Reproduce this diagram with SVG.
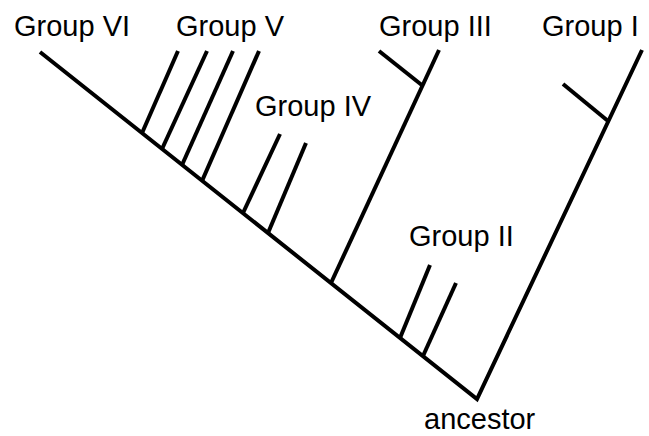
<svg xmlns="http://www.w3.org/2000/svg" width="649" height="436" viewBox="0 0 649 436">
<style>
text{font-family:"Liberation Sans",Arial,sans-serif;font-size:29px;fill:#000}
.e{stroke:#000;stroke-width:4;fill:none;stroke-linecap:butt;stroke-linejoin:miter}
</style>
<rect width="649" height="436" fill="#fff"/>
<g id="connectors">
<polyline class="e" points="40,52 477,399 642,50"/>
<line class="e" x1="563" y1="84" x2="608" y2="121"/>
<line class="e" x1="331" y1="283" x2="439" y2="50"/>
<line class="e" x1="379" y1="51" x2="423" y2="86"/>
<line class="e" x1="142" y1="133" x2="178" y2="51"/>
<line class="e" x1="162" y1="149" x2="207" y2="51"/>
<line class="e" x1="182" y1="165" x2="233" y2="51"/>
<line class="e" x1="202" y1="181" x2="259" y2="51"/>
<line class="e" x1="243" y1="213" x2="280" y2="134"/>
<line class="e" x1="268" y1="233" x2="306" y2="143"/>
<line class="e" x1="400" y1="338" x2="430" y2="265"/>
<line class="e" x1="423" y1="356" x2="456" y2="283"/>
</g>
<g id="group-vi"><text x="14" y="36">Group VI</text></g>
<g id="group-v"><text x="176" y="36">Group V</text></g>
<g id="group-iv"><text x="255" y="116">Group IV</text></g>
<g id="group-iii"><text x="379" y="36">Group III</text></g>
<g id="group-ii"><text x="409" y="246">Group II</text></g>
<g id="group-i"><text x="542" y="36">Group I</text></g>
<g id="ancestor"><text x="424" y="429">ancestor</text></g>
</svg>
